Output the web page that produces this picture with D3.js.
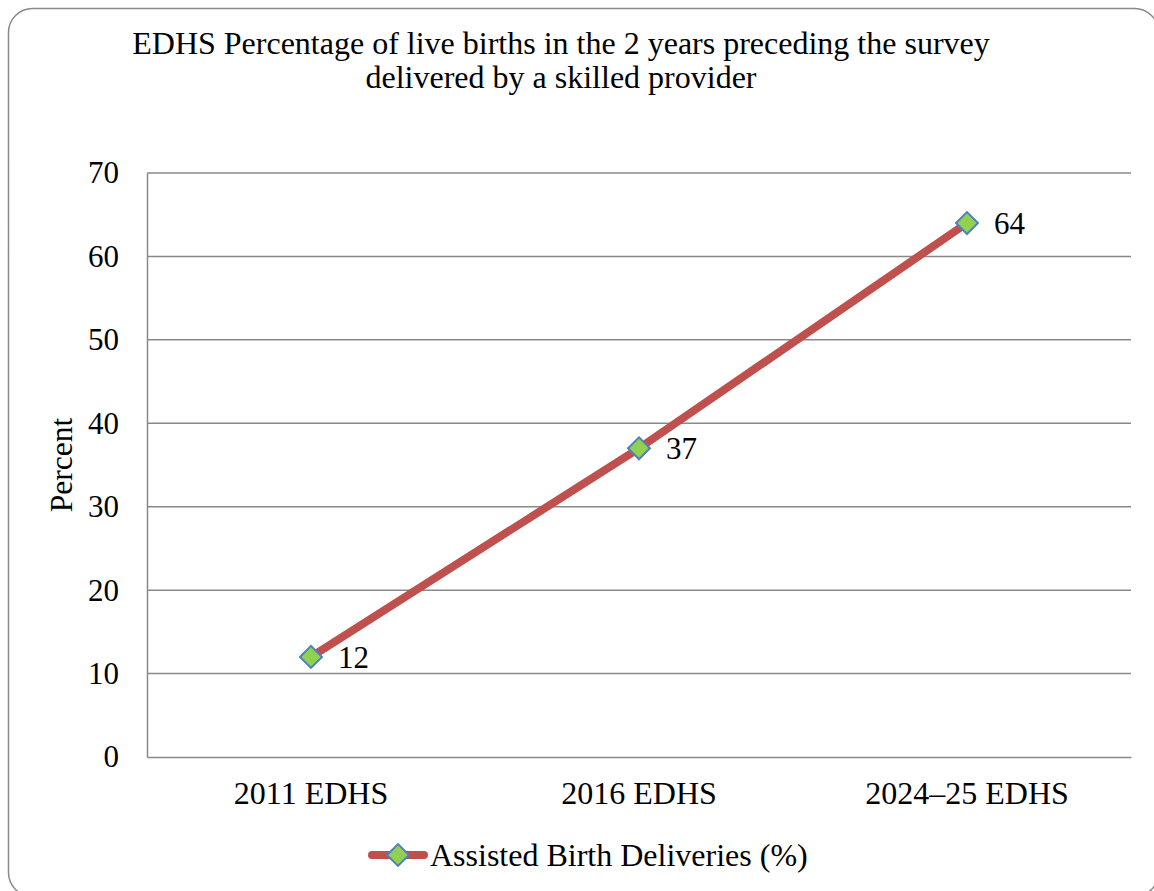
<!DOCTYPE html>
<html>
<head>
<meta charset="utf-8">
<script src="https://cdn.jsdelivr.net/npm/d3@7"></script>
<style>
  body { margin: 0; background: #fff; }
</style>
</head>
<body>
<svg id="chart" width="1154" height="891"></svg>
<script>
// data
const categories = ['2011 EDHS', '2016 EDHS', '2024–25 EDHS']
const values = [12, 37, 64]
const seriesName = 'Assisted Birth Deliveries (%)'
const yTicks = [0, 10, 20, 30, 40, 50, 60, 70]
const titleLines = [
  'EDHS Percentage of live births in the 2 years preceding the survey',
  'delivered by a skilled provider',
]

const width = 1154
const height = 891
const margin = { top: 173, right: 23, bottom: 134, left: 147 }
const innerW = width - margin.left - margin.right
const innerH = height - margin.top - margin.bottom

const serif = 'Liberation Serif, Times New Roman, serif'
const lineColor = '#C0504D'
const markerFill = '#92D050'
const markerStroke = '#4F81BD'
const gridColor = '#898989'

const svg = d3.select('#chart')

// outer frame
svg
  .append('rect')
  .attr('x', 8.5)
  .attr('y', 8.5)
  .attr('width', 1150)
  .attr('height', 888)
  .attr('rx', 24)
  .attr('fill', '#fff')
  .attr('stroke', '#8a8a8a')
  .attr('stroke-width', 1.5)

// title
svg
  .append('g')
  .attr('id', 'title')
  .selectAll('text')
  .data(titleLines)
  .join('text')
  .attr('x', 561)
  .attr('y', (d, i) => 54 + i * 34)
  .attr('text-anchor', 'middle')
  .style('font-family', serif)
  .style('font-size', '32px')
  .text((d) => d)

const g = svg
  .append('g')
  .attr('transform', `translate(${margin.left},${margin.top})`)

const x = d3.scaleBand().domain(categories).range([0, innerW])
const y = d3.scaleLinear().domain([0, 70]).range([innerH, 0])

// grid
g.append('g')
  .attr('id', 'grid')
  .selectAll('line')
  .data(yTicks.filter((d) => d > 0))
  .join('line')
  .attr('x1', 0)
  .attr('x2', innerW)
  .attr('y1', (d) => y(d))
  .attr('y2', (d) => y(d))
  .attr('stroke', gridColor)
  .attr('stroke-width', 1.5)

// y axis
const yAxis = g
  .append('g')
  .attr('id', 'yAxis')
  .call(d3.axisLeft(y).tickValues(yTicks).tickSize(0).tickPadding(28))
yAxis.select('.domain').attr('stroke', gridColor).attr('stroke-width', 1.5)
yAxis
  .selectAll('text')
  .attr('fill', '#000')
  .style('font-size', '31px')
  .style('font-family', serif)

// x axis
const xAxis = g
  .append('g')
  .attr('id', 'xAxis')
  .attr('transform', `translate(0,${innerH})`)
  .call(d3.axisBottom(x).tickSize(0).tickPadding(24))
xAxis.select('.domain').attr('stroke', gridColor).attr('stroke-width', 1.5)
xAxis
  .selectAll('text')
  .attr('fill', '#000')
  .style('font-size', '32px')
  .style('font-family', serif)

// y axis title
svg
  .append('text')
  .attr('transform', `translate(72,${margin.top + innerH / 2}) rotate(-90)`)
  .attr('text-anchor', 'middle')
  .style('font-family', serif)
  .style('font-size', '31.5px')
  .text('Percent')

const points = categories.map((c, i) => ({ cat: c, value: values[i] }))
const cx = (d) => x(d.cat) + x.bandwidth() / 2

// line
g.append('path')
  .datum(points)
  .attr('fill', 'none')
  .attr('stroke', lineColor)
  .attr('stroke-width', 8)
  .attr('stroke-linejoin', 'round')
  .attr('d', d3.line().x(cx).y((d) => y(d.value)))

const diamond = d3.symbol().type(d3.symbolSquare).size(240)

// markers
g.append('g')
  .selectAll('path')
  .data(points)
  .join('path')
  .attr('d', diamond)
  .attr('transform', (d) => `translate(${cx(d)},${y(d.value)}) rotate(45)`)
  .attr('fill', markerFill)
  .attr('stroke', markerStroke)
  .attr('stroke-width', 2)

// data labels
g.append('g')
  .selectAll('text')
  .data(points)
  .join('text')
  .attr('x', (d) => cx(d) + 27)
  .attr('y', (d) => y(d.value))
  .attr('dy', '0.35em')
  .style('font-family', serif)
  .style('font-size', '31px')
  .text((d) => d.value)

// legend
const legend = svg.append('g').attr('id', 'legend').attr('transform', 'translate(368,855)')
legend
  .append('line')
  .attr('x1', 4)
  .attr('x2', 56)
  .attr('stroke', lineColor)
  .attr('stroke-width', 8)
  .attr('stroke-linecap', 'round')
legend
  .append('path')
  .attr('d', diamond)
  .attr('transform', 'translate(30,0) rotate(45)')
  .attr('fill', markerFill)
  .attr('stroke', markerStroke)
  .attr('stroke-width', 2)
legend
  .append('text')
  .attr('x', 62)
  .attr('y', 0)
  .attr('dy', '0.35em')
  .style('font-family', serif)
  .style('font-size', '32px')
  .text(seriesName)
</script>
</body>
</html>
